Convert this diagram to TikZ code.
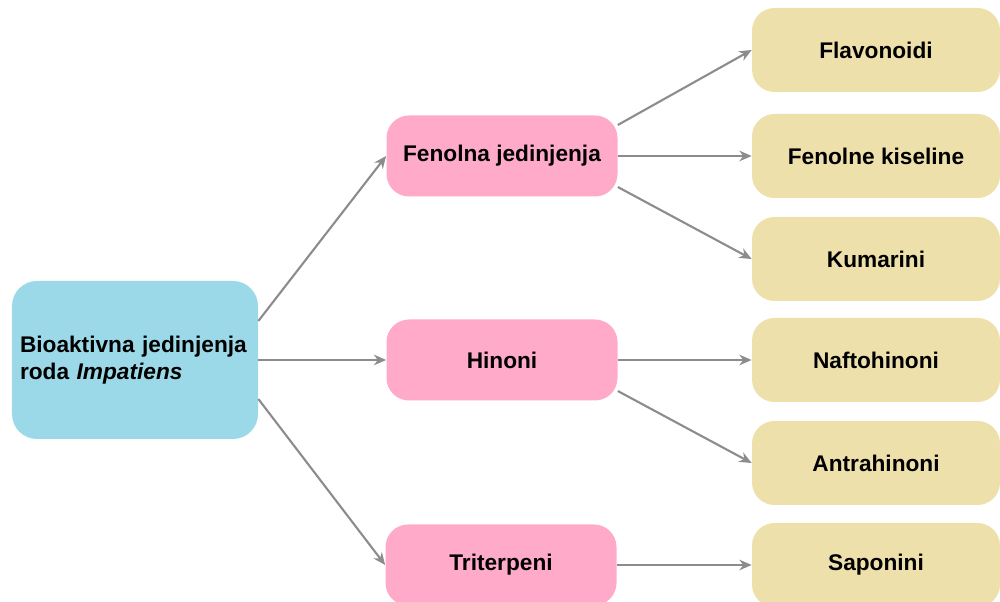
\documentclass[tikz,border=0pt]{standalone}
\usepackage{fontspec}
\setmainfont{Liberation Sans}
\usetikzlibrary{arrows.meta}
\definecolor{rootblue}{RGB}{155,217,232}
\definecolor{grouppink}{RGB}{255,170,200}
\definecolor{leaftan}{RGB}{238,224,170}
\begin{document}
\begin{tikzpicture}[
	font=\fontsize{12.9}{15.4}\selectfont\bfseries,
	mainbox/.style={rectangle, rounded corners=0.5cm, fill=rootblue, minimum width=4.92cm, minimum height=3.16cm, align=left, text width=4.6cm, inner xsep=0.16cm},
	groupbox/.style={rectangle, rounded corners=0.45cm, fill=grouppink, minimum width=4.62cm, minimum height=1.62cm},
	leafbox/.style={rectangle, rounded corners=0.45cm, fill=leaftan, minimum width=4.96cm, minimum height=1.68cm},
	arr/.style={-{Stealth[length=7pt,width=6pt]}, draw=black!45, line width=1.2pt}]
	\useasboundingbox (0,0) rectangle (20,12.04);
	\node (root) at ( 2.70,  4.84)	[mainbox]	{Bioaktivna jedinjenja\\roda \textit{Impatiens}};
	\node (fen)  at (10.04,  8.92)	[groupbox]	{Fenolna jedinjenja};
	\node (hin)  at (10.04,  4.84)	[groupbox]	{Hinoni};
	\node (tri)  at (10.02,  0.74)	[groupbox]	{Triterpeni};
	\node (flav) at (17.52, 11.04)	[leafbox]	{Flavonoidi};
	\node (fenk) at (17.52,  8.92)	[leafbox]	{Fenolne kiseline};
	\node (kum)  at (17.52,  6.86)	[leafbox]	{Kumarini};
	\node (naf)  at (17.52,  4.84)	[leafbox]	{Naftohinoni};
	\node (ant)  at (17.52,  2.78)	[leafbox]	{Antrahinoni};
	\node (sap)  at (17.52,  0.74)	[leafbox]	{Saponini};
	\draw[arr] ([yshift=0.78cm]root.east) -- (fen.west);
	\draw[arr] (root.east) -- (hin.west);
	\draw[arr] ([yshift=-0.78cm]root.east) -- (tri.west);
	\draw[arr] (fen.15) -- (flav.west);
	\draw[arr] (fen.east) -- (fenk.west);
	\draw[arr] (fen.-15) -- (kum.west);
	\draw[arr] (hin.east) -- (naf.west);
	\draw[arr] (hin.-15) -- (ant.west);
	\draw[arr] (tri.east) -- (sap.west);
\end{tikzpicture}
\end{document}
